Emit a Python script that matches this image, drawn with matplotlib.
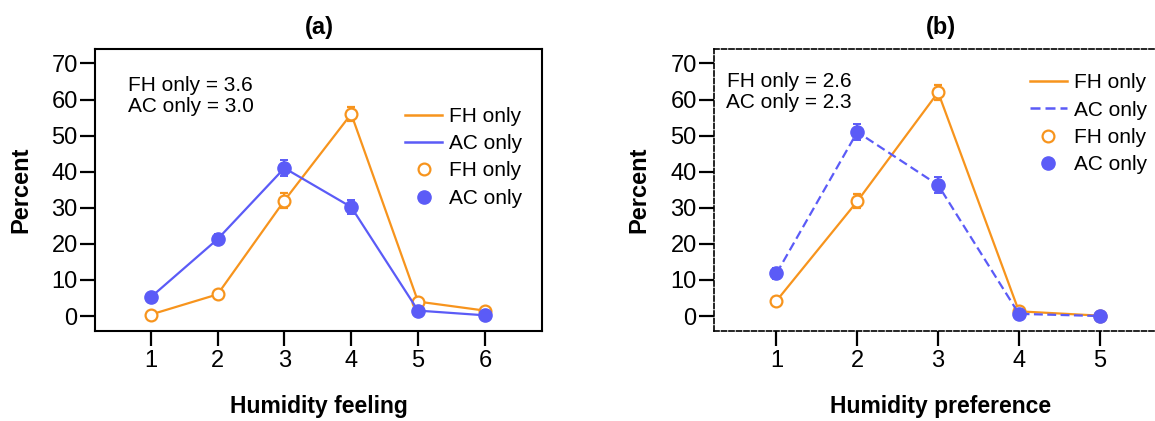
import matplotlib.pyplot as plt
from matplotlib.lines import Line2D
import numpy as np

plt.rcParams['font.family'] = ['Liberation Sans', 'DejaVu Sans']

ORANGE = '#F7941D'
BLUE = '#5B5BF7'

# panel (a): humidity feeling
feel_x = [1, 2, 3, 4, 5, 6]
feel_fh = [0.4, 6.0, 32.0, 56.0, 4.0, 1.5]
feel_ac = [5.2, 21.3, 41.0, 30.2, 1.5, 0.2]
feel_fh_err = [0.5, 1.0, 2.0, 2.0, 1.0, 0.8]
feel_ac_err = [1.0, 1.3, 2.2, 2.0, 0.8, 0.4]

# panel (b): humidity preference
pref_x = [1, 2, 3, 4, 5]
pref_fh = [4.2, 31.8, 62.0, 1.3, 0.1]
pref_ac = [11.8, 51.0, 36.3, 0.6, 0.0]
pref_fh_err = [1.0, 2.0, 2.0, 0.8, 0.3]
pref_ac_err = [1.5, 2.2, 2.2, 0.5, 0.3]

W, H = 1155, 421
fig = plt.figure(figsize=(W / 100, H / 100), dpi=100)

def px_axes(l, r, t, b):
    return fig.add_axes([l / W, 1 - b / H, (r - l) / W, (b - t) / H])

ax1 = px_axes(95, 541.7, 49, 331)
ax2 = px_axes(714, 1162, 49, 331)


def style(ax, xticks, xlim, dashed=False):
    ax.set_xlim(*xlim)
    ax.set_ylim(-4.15, 74)
    ax.set_xticks(xticks)
    ax.set_yticks(np.arange(0, 71, 10))
    ax.tick_params(axis='both', length=11, width=1.6, labelsize=17, direction='out')
    ax.tick_params(axis='y', pad=1.5)
    ax.tick_params(axis='x', pad=3)
    for sp in ax.spines.values():
        if dashed:
            sp.set_linestyle((0, (3, 1.5)))
            sp.set_linewidth(1.2)
        else:
            sp.set_linewidth(1.5)


def draw(ax, x, fh, fh_err, ac, ac_err, ac_ls):
    ax.errorbar(x, fh, yerr=fh_err, color=ORANGE, lw=1.6, capsize=3, capthick=1.4,
                elinewidth=1.4, marker='o', ms=8.5, mfc='white', mec=ORANGE, mew=1.6, zorder=3)
    ax.errorbar(x, ac, yerr=ac_err, color=BLUE, lw=1.6, ls=ac_ls, capsize=3, capthick=1.4,
                elinewidth=1.4, marker='o', ms=9.5, mfc=BLUE, mec=BLUE, zorder=4)


def legend(ax, ac_ls, anchor):
    handles = [
        Line2D([], [], color=ORANGE, lw=1.8),
        Line2D([], [], color=BLUE, lw=1.8, ls=ac_ls),
        Line2D([], [], ls='none', marker='o', ms=8.5, mfc='white', mec=ORANGE, mew=1.6),
        Line2D([], [], ls='none', marker='o', ms=9.5, mfc=BLUE, mec=BLUE),
    ]
    labels = ['FH only', 'AC only', 'FH only', 'AC only']
    ax.legend(handles, labels, loc='upper left', bbox_to_anchor=anchor, frameon=False,
              fontsize=15, handlelength=1.78, handletextpad=0.34, labelspacing=0.4,
              borderpad=0, borderaxespad=0)


style(ax1, feel_x, (0.166, 6.85))
draw(ax1, feel_x, feel_fh, feel_fh_err, feel_ac, feel_ac_err, '-')
legend(ax1, '-', (0.694, 0.795))
ax1.text(0.214, 0.872, 'FH only = 3.6', transform=ax1.transAxes, ha='center', va='center', fontsize=15)
ax1.text(0.214, 0.795, 'AC only = 3.0', transform=ax1.transAxes, ha='center', va='center', fontsize=15)

style(ax2, pref_x, (0.227, 5.77), dashed=True)
draw(ax2, pref_x, pref_fh, pref_fh_err, pref_ac, pref_ac_err, (0, (4, 2)))
legend(ax2, (0, (4, 2)), (0.705, 0.914))
ax2.text(0.167, 0.884, 'FH only = 2.6', transform=ax2.transAxes, ha='center', va='center', fontsize=15)
ax2.text(0.167, 0.810, 'AC only = 2.3', transform=ax2.transAxes, ha='center', va='center', fontsize=15)

# titles and axis labels placed in figure pixels
for cx, title, xlabel in [(319, '(a)', 'Humidity feeling'), (941, '(b)', 'Humidity preference')]:
    fig.text(cx / W, 1 - 27.8 / H, title, ha='center', va='center', fontsize=17, fontweight='bold')
    fig.text(cx / W, 1 - 407 / H, xlabel, ha='center', va='center', fontsize=16.5, fontweight='bold')
for cx in [20.4, 639.3]:
    fig.text(cx / W, 1 - 190 / H, 'Percent', ha='center', va='center', rotation=90,
             fontsize=17, fontweight='bold')

fig.savefig('out.png', dpi=100)
